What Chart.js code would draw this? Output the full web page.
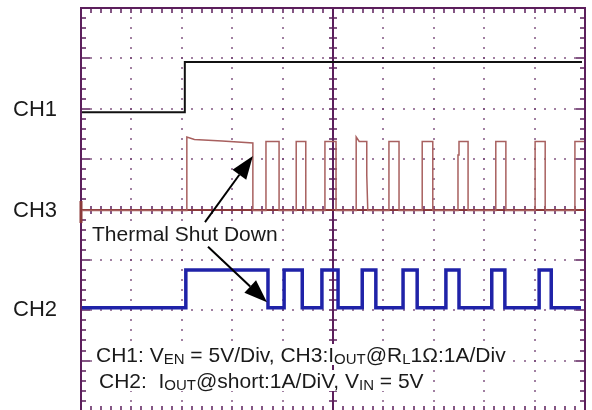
<!DOCTYPE html>
<html>
<head>
<meta charset="utf-8">
<script src="https://cdn.jsdelivr.net/npm/chart.js@4/dist/chart.umd.min.js"></script>
<style>
  html, body { margin: 0; padding: 0; background: #fff; overflow: hidden; }
  #wrap { position: relative; width: 592px; height: 410px; overflow: hidden; background: #fff; }
  #c { position: absolute; left: 0; top: 0; }
  .lbl { position: absolute; font-family: 'Liberation Sans', Arial, sans-serif; color: #1a1a1a;
         line-height: 1; white-space: nowrap; }
  .ch { font-size: 22px; }
  .note { font-size: 21px; background: #fff; padding: 0 2px; }
  .note sub { font-size: 15px; vertical-align: baseline; position: relative; top: 2px; }
</style>
</head>
<body>
<div id="wrap">
  <canvas id="c" width="592" height="412"></canvas>
  <div class="lbl ch" style="left:13px;top:98px">CH1</div>
  <div class="lbl ch" style="left:13px;top:199px">CH3</div>
  <div class="lbl ch" style="left:13px;top:298px">CH2</div>
  <div class="lbl note" style="left:90px;top:223px">Thermal Shut Down</div>
  <div class="lbl note" style="left:94px;top:344px">CH1: V<sub>EN</sub> = 5V/Div, CH3:I<sub>OUT</sub>@R<sub>L</sub>1Ω:1A/Div</div>
  <div class="lbl note" style="left:97px;top:370px">CH2:&nbsp; I<sub>OUT</sub>@short:1A/DiV, V<sub>IN</sub> = 5V</div>
</div>
<script>
// ── Scope screen in divisions: 10 x 8, zero of CH3 at the centre line ──
const X_RANGE = [0, 10];
const Y_RANGE = [-4, 4];

// CH1: V_EN (5 V/div)
const ch1X = [0.02, 2.06, 2.06, 9.94];
const ch1Y = [1.93, 1.93, 2.93, 2.93];

// CH3: I_OUT @ RL 1 Ω (1 A/div)
const ch3X = [0.02, 2.10, 2.10, 2.25, 2.80, 3.41, 3.41, 3.67, 3.67, 3.93, 3.93,
              4.27, 4.27, 4.46, 4.46, 4.84, 4.84, 5.06, 5.06, 5.46, 5.46, 5.52, 5.67, 5.67, 5.69,
              6.11, 6.11, 6.31, 6.31, 6.77, 6.77, 6.98, 6.98, 7.48, 7.48, 7.50, 7.50, 7.68, 7.68,
              8.23, 8.23, 8.43, 8.43, 9.01, 9.01, 9.21, 9.21, 9.80, 9.80, 9.98];
const ch3Y = [-0.02, -0.02, 1.44, 1.39, 1.36, 1.32, -0.02, -0.02, 1.35, 1.35, -0.02,
              -0.02, 1.35, 1.35, -0.02, -0.02, 1.35, 1.35, -0.02, -0.02, 1.44, 1.35, 1.35, 0.68, -0.02,
              -0.02, 1.35, 1.35, -0.02, -0.02, 1.35, 1.35, -0.02, -0.02, 1.08, 1.08, 1.35, 1.35, -0.02,
              -0.02, 1.35, 1.35, -0.02, -0.02, 1.35, 1.35, -0.02, -0.02, 1.35, 1.35];

// CH2: I_OUT @ short (1 A/div)
const ch2X = [0.02, 2.08, 2.08, 3.71, 3.71, 4.03, 4.03, 4.39, 4.39, 4.78, 4.78, 5.10, 5.10,
              5.58, 5.58, 5.85, 5.85, 6.39, 6.39, 6.67, 6.67, 7.24, 7.24, 7.50, 7.50,
              8.15, 8.15, 8.41, 8.41, 9.09, 9.09, 9.33, 9.33, 9.92];
const ch2Y = [-1.95, -1.95, -1.20, -1.20, -1.95, -1.95, -1.20, -1.20, -1.95, -1.95, -1.20, -1.20, -1.95,
              -1.95, -1.20, -1.20, -1.95, -1.95, -1.20, -1.20, -1.95, -1.95, -1.20, -1.20, -1.95,
              -1.95, -1.20, -1.20, -1.95, -1.95, -1.20, -1.20, -1.95, -1.95];

// "Thermal Shut Down" arrows (tail → tip, in divisions)
const arrowTails = [[2.46, -0.25], [2.52, -0.74]];
const arrowTips  = [[3.41, 1.06], [3.69, -1.84]];

const FRAME = '#5c1f5c', DOT = '#6e3a6e', CH3_GND = '#8b3a3a';
const pts = (xs, ys) => xs.map((x, i) => ({ x, y: ys[i] }));

const scopeGrid = {
  id: 'scopeGrid',
  beforeDatasetsDraw(chart) {
    const { ctx, chartArea: a, scales: { x, y } } = chart;
    const px = v => Math.round(x.getPixelForValue(v));
    const py = v => Math.round(y.getPixelForValue(v));
    ctx.save();
    // dotted graticule
    ctx.fillStyle = DOT;
    for (let i = 1; i < 10; i++) {
      if (i === 5) continue;
      for (let k = 0; k <= 40; k++) ctx.fillRect(px(i) - 0.8, py(-4 + k * 0.2) - 0.8, 1.6, 1.6);
    }
    for (let j = -3; j <= 3; j++) {
      if (j === 0) continue;
      for (let k = 0; k <= 50; k++) ctx.fillRect(px(k * 0.2) - 0.8, py(j) - 0.8, 1.6, 1.6);
    }
    // border + ticks
    ctx.strokeStyle = FRAME;
    ctx.lineWidth = 2;
    ctx.strokeRect(a.left, a.top, a.right - a.left, a.bottom - a.top);
    ctx.lineWidth = 1.5;
    ctx.beginPath();
    for (let k = 1; k < 50; k++) {
      const xx = px(k * 0.2);
      ctx.moveTo(xx, a.top); ctx.lineTo(xx, a.top + 5);
      ctx.moveTo(xx, a.bottom); ctx.lineTo(xx, a.bottom - 5);
      ctx.moveTo(xx, py(0) - 4); ctx.lineTo(xx, py(0) + 4);
    }
    for (let k = 1; k < 40; k++) {
      const v = -4 + k * 0.2, yy = py(v);
      const len = Math.abs(v - Math.round(v)) < 1e-6 ? 9 : 5;
      ctx.moveTo(a.left, yy); ctx.lineTo(a.left + len, yy);
      ctx.moveTo(a.right, yy); ctx.lineTo(a.right - len, yy);
      ctx.moveTo(px(5) - 4, yy); ctx.lineTo(px(5) + 4, yy);
    }
    ctx.stroke();
    ctx.lineWidth = 2;
    ctx.beginPath();
    ctx.moveTo(px(5), a.top); ctx.lineTo(px(5), a.bottom);
    ctx.stroke();
    // CH3 ground reference
    ctx.strokeStyle = CH3_GND;
    ctx.beginPath();
    ctx.moveTo(a.left, py(0)); ctx.lineTo(a.right, py(0));
    ctx.stroke();
    ctx.fillStyle = CH3_GND;
    ctx.fillRect(a.left - 1.5, py(0.17), 3, py(-0.27) - py(0.17));
    ctx.restore();
  },
  afterDatasetsDraw(chart) {
    const { ctx, scales: { x, y } } = chart;
    ctx.save();
    ctx.strokeStyle = '#000';
    ctx.fillStyle = '#000';
    ctx.lineWidth = 2;
    arrowTails.forEach((t, i) => {
      const x0 = x.getPixelForValue(t[0]), y0 = y.getPixelForValue(t[1]);
      const x1 = x.getPixelForValue(arrowTips[i][0]), y1 = y.getPixelForValue(arrowTips[i][1]);
      const ang = Math.atan2(y1 - y0, x1 - x0), L = 23, W = 8.5;
      const bx = x1 - L * Math.cos(ang), by = y1 - L * Math.sin(ang);
      ctx.beginPath();
      ctx.moveTo(x0, y0); ctx.lineTo(bx, by);
      ctx.stroke();
      ctx.beginPath();
      ctx.moveTo(x1, y1);
      ctx.lineTo(bx + W * Math.sin(ang), by - W * Math.cos(ang));
      ctx.lineTo(bx - W * Math.sin(ang), by + W * Math.cos(ang));
      ctx.closePath();
      ctx.fill();
    });
    ctx.restore();
  }
};

new Chart(document.getElementById('c'), {
  type: 'scatter',
  data: {
    datasets: [
      { label: 'CH3', data: pts(ch3X, ch3Y), borderColor: '#a8605f', borderWidth: 1.5 },
      { label: 'CH1', data: pts(ch1X, ch1Y), borderColor: '#111', borderWidth: 2 },
      { label: 'CH2', data: pts(ch2X, ch2Y), borderColor: '#1f22a8', borderWidth: 3.5 }
    ].map(d => ({ ...d, showLine: true, pointRadius: 0, tension: 0, fill: false }))
  },
  options: {
    responsive: false, animation: false, events: [],
    layout: { padding: { left: 81, top: 8, right: 7, bottom: 1 } },
    plugins: { legend: { display: false }, tooltip: { enabled: false } },
    scales: {
      x: { type: 'linear', min: X_RANGE[0], max: X_RANGE[1], display: false },
      y: { type: 'linear', min: Y_RANGE[0], max: Y_RANGE[1], display: false }
    }
  },
  plugins: [scopeGrid]
});
</script>
</body>
</html>
